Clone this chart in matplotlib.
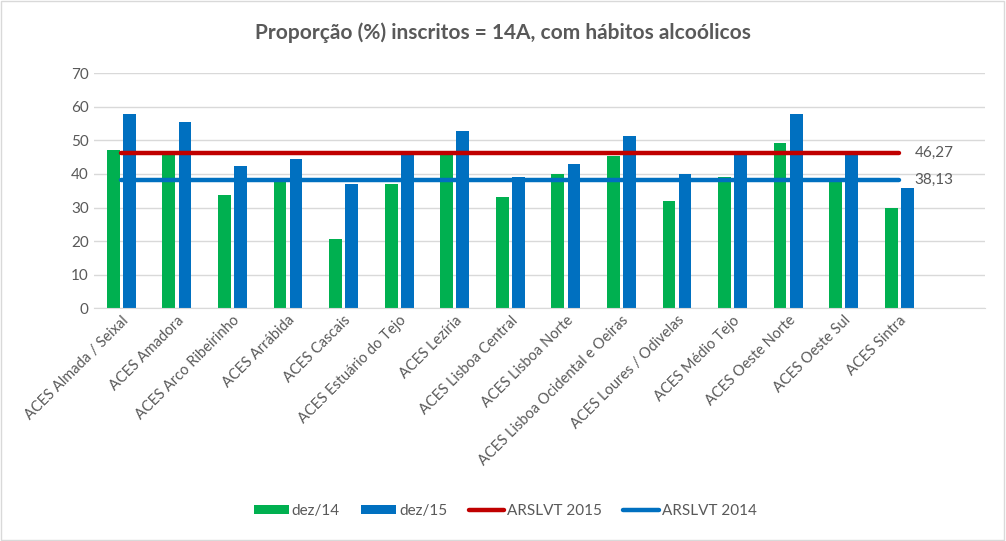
import matplotlib.pyplot as plt
import numpy as np
from matplotlib.patches import Rectangle

plt.rcParams['font.family'] = ['Lato', 'DejaVu Sans']

categorias = ["ACES Almada / Seixal", "ACES Amadora", "ACES Arco Ribeirinho",
              "ACES Arrábida", "ACES Cascais", "ACES Estuário do Tejo",
              "ACES Lezíria", "ACES Lisboa Central", "ACES Lisboa Norte",
              "ACES Lisboa Ocidental e Oeiras", "ACES Loures / Odivelas",
              "ACES Médio Tejo", "ACES Oeste Norte", "ACES Oeste Sul",
              "ACES Sintra"]
dez14 = [47.1, 45.8, 33.7, 38.0, 20.5, 37.0, 45.8, 33.1, 39.9, 45.3, 31.9, 39.0, 49.2, 38.1, 29.9]
dez15 = [57.9, 55.5, 42.3, 44.4, 37.0, 45.8, 52.8, 39.0, 43.0, 51.3, 39.9, 45.8, 57.9, 45.8, 35.8]
arslvt_2015 = 46.27
arslvt_2014 = 38.13

cinza = '#595959'
verde = '#00B050'
azul = '#0070C0'
vermelho = '#C00000'

fig = plt.figure(figsize=(10.06, 5.41), dpi=100)
ax = fig.add_axes([0.093, 0.43, 0.886, 0.435])

x = np.arange(len(categorias))
w = 0.23
b14 = ax.bar(x - 0.145, dez14, w, color=verde, label='dez/14', zorder=2)
b15 = ax.bar(x + 0.145, dez15, w, color=azul, label='dez/15', zorder=2)
l15, = ax.plot(x, [arslvt_2015] * len(x), color=vermelho, lw=3.2, solid_capstyle='round',
               label='ARSLVT 2015', zorder=3)
l14, = ax.plot(x, [arslvt_2014] * len(x), color=azul, lw=3.2, solid_capstyle='round',
               label='ARSLVT 2014', zorder=3)
ax.text(x[-1] + 0.28, arslvt_2015, '46,27', color=cinza, fontsize=11, va='center')
ax.text(x[-1] + 0.28, arslvt_2014, '38,13', color=cinza, fontsize=11, va='center')

ax.set_xlim(-0.5, len(x) + 0.54)
ax.set_ylim(0, 70)
ax.set_yticks(range(0, 71, 10))
ax.yaxis.grid(True, color='#D9D9D9', lw=1, zorder=0)
ax.set_axisbelow(True)
for s in ['top', 'right', 'left']:
    ax.spines[s].set_visible(False)
ax.spines['bottom'].set_color('#D9D9D9')
ax.tick_params(axis='both', length=0, colors=cinza, labelsize=11)
ax.set_xticks(x)
ax.set_xticklabels(categorias, rotation=45, ha='right', rotation_mode='anchor',
                   fontsize=10.5, color=cinza)

fig.text(0.5, 0.94, 'Proporção (%) inscritos = 14A, com hábitos alcoólicos',
         ha='center', va='center', fontsize=15, fontweight='bold', color=cinza)

fig.legend([b14, b15, l15, l14], ['dez/14', 'dez/15', 'ARSLVT 2015', 'ARSLVT 2014'],
           loc='center', bbox_to_anchor=(0.502, 0.055), ncol=4, frameon=False,
           fontsize=11, labelcolor=cinza, handlelength=2.3, handleheight=0.5,
           columnspacing=1.4, handletextpad=0.2)

fig.patches.append(Rectangle((0.001, 0.002), 0.997, 0.996, transform=fig.transFigure,
                             fill=False, edgecolor='#D9D9D9', lw=1))

fig.savefig('out.png', dpi=100)
